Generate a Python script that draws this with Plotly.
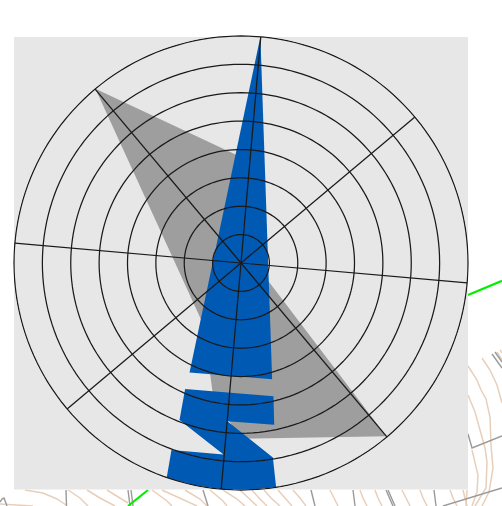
import plotly.graph_objects as go

# Wind-rose polygons (r in ring units, theta in degrees clockwise from north)
gray_r = [8.0, 3.6, 0.48, 7.97, 6.19, 4.62, 2.55, 8.0]
gray_theta = [320.1, 5, 90, 140, 180.5, 192.6, 211.2, 320.1]

blue_top_r = [8.0, 4.24, 4.26, 8.0]
blue_top_theta = [4.9, 165.0, 205.2, 4.9]

blue_low_r = [4.86, 4.83, 5.82, 5.60, 6.95, 8.0, 8.0, 8.0, 8.0, 8.0, 7.03, 6.78, 5.94, 4.86]
blue_low_theta = [203.9, 166.3, 168.4, 184.9, 170.7, 171.1, 178, 185, 192, 199.1, 200.4, 185.2, 201.4, 203.9]

ring_values = [1, 2, 3, 4, 5, 6, 7, 8]
spoke_angles = [5, 50, 95, 140, 185, 230, 275, 320]
ring_theta = list(range(0, 361, 2))

# Map backdrop, in page pixels
panel_x = [14, 468, 468, 14, 14]
panel_y = [37, 37, 489.5, 489.5, 37]

contours = [
    [(468, 366), (477, 380), (481, 390), (486, 399), (490, 417), (491, 445), (493, 468), (489, 492), (482, 506)],
    [(468, 395), (475, 412), (480, 430), (485, 448), (487, 462), (486, 488), (475, 506)],
    [(482, 358), (490, 370), (497, 385), (502, 403)],
    [(472, 450), (478, 475), (477, 492), (472, 506)],
    [(467, 490), (466, 506)],
    [(497, 352), (502, 360)],
    [(500, 350), (502, 353)],
    [(25, 490), (43, 493), (57, 499), (66, 505)],
    [(68, 490), (80, 498), (88, 506)],
    [(87, 490), (100, 498), (115, 506)],
    [(107, 490), (120, 498), (128, 503)],
    [(0, 504), (20, 505), (33, 506)],
    [(152, 490), (167, 501), (172, 506)],
    [(162, 490), (180, 498), (197, 506)],
    [(185, 490), (200, 499), (207, 506)],
    [(210, 490), (223, 501), (227, 506)],
    [(223, 490), (237, 499), (245, 506)],
    [(240, 490), (253, 503), (257, 506)],
    [(252, 490), (259, 498), (267, 506)],
    [(264, 490), (271, 498), (280, 506)],
    [(278, 490), (285, 498), (292, 506)],
    [(293, 490), (300, 498), (306, 506)],
    [(330, 490), (334, 498), (338, 506)],
    [(360, 490), (363, 498), (367, 506)],
    [(375, 490), (378, 498), (382, 506)],
    [(402, 490), (406, 498), (410, 506)],
    [(420, 490), (423, 498), (427, 506)],
    [(450, 490), (453, 498), (457, 506)],
    [(463, 490), (465, 498), (467, 506)],
]
roads = [
    [(492, 354), (502, 368)],
    [(495, 352), (502, 362)],
    [(468, 434), (472, 448), (502, 436)],
    [(443, 506), (502, 488)],
    [(66, 490), (66.5, 506)],
    [(128, 490), (130, 506)],
    [(131, 490), (133, 506)],
    [(0, 502), (2, 499), (4, 498), (7, 506)],
    [(203, 490), (208, 506)],
    [(311, 490), (315, 506)],
    [(353, 490), (355, 506)],
    [(386, 490), (393, 506)],
    [(388, 490), (395, 506)],
    [(434, 490), (436, 506)],
]
green_lines = [
    [(468, 295), (502, 280.7)],
    [(148, 490), (128, 506)],
]

GRID = "#1a1a1a"
fig = go.Figure()


def add_path(path, color, width):
    fig.add_trace(go.Scatter(
        x=[p[0] for p in path], y=[p[1] for p in path], mode="lines",
        line=dict(color=color, width=width), hoverinfo="skip", showlegend=False,
    ))


for path in contours:
    add_path(path, "#e8cfba", 1.5)
for path in roads:
    add_path(path, "#9a9a9a", 1.4)
for path in green_lines:
    add_path(path, "#00f000", 2.2)

fig.add_trace(go.Scatter(
    x=panel_x, y=panel_y, mode="lines", fill="toself", fillcolor="#e7e7e7",
    line=dict(width=0), hoverinfo="skip", showlegend=False,
))


def add_poly(r, theta, color):
    fig.add_trace(go.Scatterpolar(
        r=r, theta=theta, mode="lines", fill="toself", fillcolor=color,
        line=dict(width=0, color=color), hoverinfo="skip", showlegend=False,
    ))


add_poly(gray_r, gray_theta, "#9e9e9e")
add_poly(blue_top_r, blue_top_theta, "#005ab4")
add_poly(blue_low_r, blue_low_theta, "#005ab4")

for ring in ring_values:
    fig.add_trace(go.Scatterpolar(
        r=[ring] * len(ring_theta), theta=ring_theta, mode="lines", cliponaxis=False,
        line=dict(color=GRID, width=1.25), hoverinfo="skip", showlegend=False,
    ))
for angle in spoke_angles:
    fig.add_trace(go.Scatterpolar(
        r=[0, ring_values[-1]], theta=[angle, angle], mode="lines", cliponaxis=False,
        line=dict(color=GRID, width=1.25), hoverinfo="skip", showlegend=False,
    ))

fig.update_layout(
    width=502, height=506, autosize=False,
    margin=dict(l=0, r=0, t=0, b=0),
    paper_bgcolor="white", plot_bgcolor="rgba(0,0,0,0)",
    xaxis=dict(range=[0, 502], domain=[0, 1], visible=False, fixedrange=True),
    yaxis=dict(range=[506, 0], domain=[0, 1], visible=False, fixedrange=True),
    polar=dict(
        domain=dict(x=[13 / 502, 469 / 502], y=[15 / 506, 471 / 506]),
        bgcolor="rgba(0,0,0,0)",
        radialaxis=dict(range=[0, 8.035], visible=False),
        angularaxis=dict(rotation=90, direction="clockwise", visible=False),
    ),
)

fig.write_html("out.html", post_script="document.body.style.margin='0';",
               config={"displayModeBar": False})
